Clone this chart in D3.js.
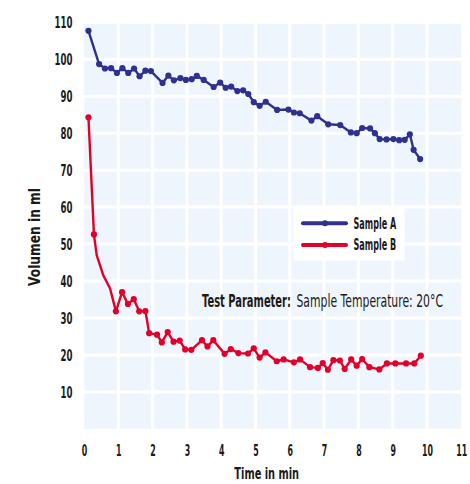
<!DOCTYPE html>
<html><head><meta charset="utf-8">
<script src="https://cdn.jsdelivr.net/npm/d3@7"></script>
<style>
html,body{margin:0;padding:0;background:#fff;}
text{font-family:"DejaVu Sans","Liberation Sans",sans-serif;fill:#1a1a1a;}
</style></head>
<body>
<svg id="c" width="470" height="484"></svg>
<script>
// ---- data ----
const xTicks = [0,1,2,3,4,5,6,7,8,9,10,11];
const yTicks = [10,20,30,40,50,60,70,80,90,100,110];
const seriesNames = ["Sample A","Sample B"];

const sampleA_t = [0.13,0.44,0.61,0.79,0.96,1.12,1.29,1.46,1.62,1.79,1.95,2.29,2.46,2.62,2.81,2.97,3.14,3.29,3.49,3.78,3.97,4.13,4.29,4.47,4.64,4.79,4.95,5.12,5.30,5.63,5.96,6.12,6.29,6.63,6.80,7.12,7.47,7.78,7.95,8.11,8.34,8.48,8.62,8.82,9.02,9.19,9.35,9.50,9.61,9.80];
const sampleA_v = [107.7,98.7,97.5,97.6,96.3,97.6,96.3,97.5,95.4,96.9,96.8,93.6,95.6,94.3,94.9,94.4,94.6,95.5,94.4,92.5,93.7,92.3,92.6,91.4,91.6,90.6,88.4,87.4,88.5,86.3,86.4,85.6,85.4,83.4,84.6,82.4,82.2,80.2,80.0,81.4,81.3,80.0,78.4,78.3,78.4,78.1,78.2,79.7,75.5,73.0];

const sampleB_t = [0.13,0.29,0.37,0.56,0.76,0.93,1.11,1.28,1.45,1.61,1.79,1.90,2.13,2.27,2.44,2.61,2.79,2.95,3.13,3.44,3.60,3.77,4.10,4.28,4.50,4.78,4.95,5.12,5.29,5.62,5.82,6.12,6.30,6.59,6.82,6.96,7.11,7.27,7.46,7.60,7.79,7.95,8.11,8.32,8.61,8.83,9.08,9.39,9.63,9.82];
const sampleB_v = [84.3,52.6,47.0,41.6,38.0,31.8,37.0,33.8,35.1,31.8,31.9,25.9,25.5,23.4,26.2,23.6,23.9,21.5,21.4,24.0,22.3,24.0,20.3,21.6,20.5,20.4,21.8,19.3,20.7,18.3,18.8,18.0,18.8,16.7,16.5,17.8,16.0,18.6,18.5,16.2,18.8,17.1,18.9,16.7,16.1,17.7,17.7,17.7,17.7,19.8];
const sampleB_marked = [1,1,0,0,0,1,1,1,1,1,1,1,1,1,1,1,1,1,1,1,1,1,1,1,1,1,1,1,1,1,1,1,1,1,1,1,1,1,1,1,1,1,1,1,1,1,1,1,1,1];

const colors = ["#2e3190","#e2002a"];
const annotationBold = "Test Parameter:";
const annotationRest = "Sample Temperature: 20°C";

// ---- chart ----
const svg = d3.select("#c");
const x = d3.scaleLinear().domain([0,11]).range([84,461.3]);
const y = d3.scaleLinear().domain([0,110]).range([428.9,22.3]);

// horizontally condense a text (anchored at its own origin) to a target width
function squeeze(node, w, pre){
  const n = node.getComputedTextLength();
  const s = n > 0 ? w / n : 1;
  d3.select(node).attr("transform", (pre || "") + " scale(" + s + ",1)");
}

// background
svg.append("rect").attr("x",x(0)).attr("y",y(110)).attr("width",x(11)-x(0)).attr("height",y(0)-y(110)).attr("fill","#eef5fc");
// white grid
svg.append("g").selectAll("line").data(xTicks.slice(1,-1)).join("line")
  .attr("x1",d=>x(d)).attr("x2",d=>x(d)).attr("y1",y(110)).attr("y2",y(0))
  .attr("stroke","#fff").attr("stroke-width",3);
svg.append("g").selectAll("line").data(yTicks).join("line")
  .attr("y1",d=>y(d)).attr("y2",d=>y(d)).attr("x1",x(0)).attr("x2",x(11))
  .attr("stroke","#fff").attr("stroke-width",3);

// axes (labels only)
const xAxis = d3.axisBottom(x).tickValues(xTicks).tickSize(0).tickPadding(0).tickFormat(d3.format("d"));
const gx = svg.append("g").attr("transform","translate(0,456)").call(xAxis);
gx.select(".domain").remove();
gx.selectAll("text").attr("font-size",16).attr("font-weight","bold").attr("fill","#1a1a1a").attr("dy",null).attr("y",0)
  .style("font-family",null).each(function(d){ squeeze(this, String(d).length*5.5); });

const yAxis = d3.axisLeft(y).tickValues(yTicks).tickSize(0).tickPadding(0).tickFormat(d3.format("d"));
const gy = svg.append("g").attr("transform","translate(72.5,0)").call(yAxis);
gy.select(".domain").remove();
gy.selectAll("text").attr("font-size",16).attr("font-weight","bold").attr("fill","#1a1a1a")
  .style("font-family",null).each(function(d){ squeeze(this, String(d).length*6); });

// helper for free texts
function label(px, py, txt, size, weight, w, anchor, rot){
  const t = svg.append("text").attr("font-size",size).attr("font-weight",weight)
    .attr("text-anchor",anchor || "start").text(txt);
  squeeze(t.node(), w, "translate(" + px + "," + py + ")" + (rot ? " rotate(" + rot + ")" : ""));
  return t;
}

// axis titles
label(266.7, 479.3, "Time in min", 15.5, "bold", 64.7, "middle");
label(39.5, 237, "Volumen in ml", 15.5, "bold", 98, "middle", -90);

// series
const seriesData = [
  sampleA_t.map((t,i)=>({t,v:sampleA_v[i],m:1})),
  sampleB_t.map((t,i)=>({t,v:sampleB_v[i],m:sampleB_marked[i]}))
];
const line = d3.line().x(d=>x(d.t)).y(d=>y(d.v));
seriesData.forEach((s,i)=>{
  svg.append("path").datum(s).attr("d",line).attr("fill","none")
    .attr("stroke",colors[i]).attr("stroke-width",2.4).attr("stroke-linejoin","round");
  svg.append("g").selectAll("circle").data(s.filter(d=>d.m)).join("circle")
    .attr("cx",d=>x(d.t)).attr("cy",d=>y(d.v)).attr("r",3.1).attr("fill",colors[i]);
});

// legend
svg.append("rect").attr("x",293.5).attr("y",207.5).attr("width",111).attr("height",53).attr("fill","#fff");
seriesNames.forEach((n,i)=>{
  const yy = 223.3 + i*21.7;
  svg.append("line").attr("x1",303).attr("x2",346).attr("y1",yy).attr("y2",yy)
    .attr("stroke",colors[i]).attr("stroke-width",4).attr("stroke-linecap","round");
  svg.append("circle").attr("cx",325).attr("cy",yy).attr("r",3).attr("fill",colors[i]);
  label(353.5, yy+5.3, n, 15, "bold", 42.7);
});

// annotation
label(202, 306.5, annotationBold, 17.5, "bold", 89);
label(296.5, 306.5, annotationRest, 17.5, "normal", 146.5);
</script>
</body></html>
